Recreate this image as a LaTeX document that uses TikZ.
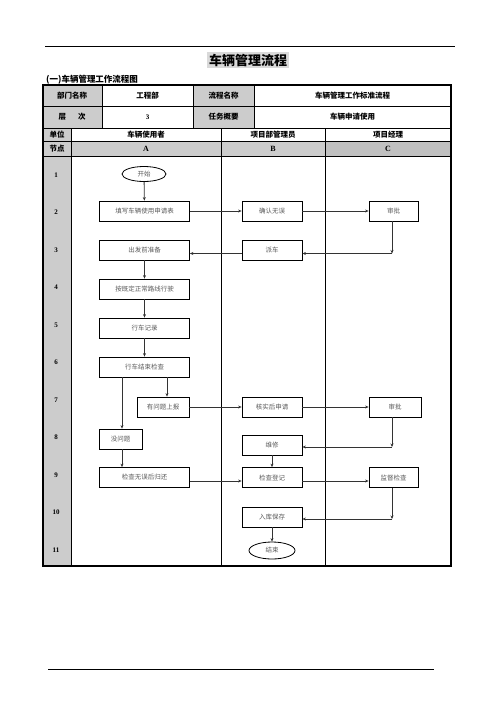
\documentclass[tikz,border=0pt]{standalone}
\usepackage{fontspec}
\setmainfont{Liberation Serif}
\newfontfamily\cjk{Noto Sans CJK SC}
\usepackage{tikz}
\usetikzlibrary{arrows.meta, shapes.geometric}
\definecolor{graycolor}{RGB}{204,204,204}
\definecolor{darkgraycolor}{RGB}{192,192,192}
\definecolor{titlecolor}{RGB}{217,217,217}

\begin{document}
\begin{tikzpicture}[x=1pt, y=-1pt, >={Stealth[length=3.5pt,width=3pt]},
  box/.style={draw, line width=0.8pt, rectangle, minimum height=20pt, inner sep=0pt, text=black!65, font=\cjk\fontsize{6.5}{7}\selectfont},
  oval/.style={draw, line width=0.8pt, ellipse, inner sep=0pt, text=black!65, font=\cjk\fontsize{6.5}{7}\selectfont},
  head/.style={font=\cjk\bfseries\fontsize{7.5}{8}\selectfont},
  flow/.style={->, line width=0.8pt, black!80}]
\useasboundingbox (0,0) rectangle (496,702);

% Page rules and titles
\draw[line width=0.8pt] (45,46) -- (455,46);
\draw[line width=0.8pt] (48,669) -- (434,669);
\fill[titlecolor] (207,52) rectangle (289,68);
\node[font=\cjk\bfseries\fontsize{13}{14}\selectfont] (title) at (248,60) {车辆管理流程};
\node[anchor=west, font=\cjk\bfseries\fontsize{8.5}{9}\selectfont, inner sep=0pt] (subtitle) at (46,79.5) {(一)车辆管理工作流程图};

% Table fills
\fill[graycolor] (43,85) rectangle (102,128);
\fill[graycolor] (193,85) rectangle (254,128);
\fill[graycolor] (43,128) rectangle (71,566);
\fill[graycolor] (71,141) rectangle (325.5,156);
\fill[darkgraycolor] (325.5,141) rectangle (451,156);

% Table lines
\draw[line width=0.6pt] (43,106) -- (451,106);
\draw[line width=0.6pt] (43,128) -- (451,128);
\draw[line width=0.6pt] (43,141) -- (451,141);
\draw[line width=0.6pt] (43,156) -- (451,156);
\foreach \x in {102,193,254} \draw[line width=0.6pt] (\x,85) -- (\x,128);
\foreach \x in {71,221,325.5} \draw[line width=0.6pt] (\x,128) -- (\x,566);
\draw[line width=1.6pt] (43,85) rectangle (451,566);

% Table headings
\node[head] (dept) at (72,96) {部门名称};
\node[head] (deptval) at (147.5,96) {工程部};
\node[head] (pname) at (223.5,96) {流程名称};
\node[head] (pnameval) at (352.5,96) {车辆管理工作标准流程};
\node[head] (level) at (72,117) {层\hspace{1.6em}次};
\node[head, font=\bfseries\fontsize{7}{8}\selectfont] (levelval) at (147.5,117) {3};
\node[head] (task) at (223.5,117) {任务概要};
\node[head] (taskval) at (352.5,117) {车辆申请使用};
\node[head] (unit) at (57,134.5) {单位};
\node[head] (unitA) at (146,134.5) {车辆使用者};
\node[head] (unitB) at (273,134.5) {项目部管理员};
\node[head] (unitC) at (388,134.5) {项目经理};
\node[head] (step) at (57,148.5) {节点};
\node[font=\bfseries\fontsize{8}{9}\selectfont] (colA) at (146,148.5) {A};
\node[font=\bfseries\fontsize{8}{9}\selectfont] (colB) at (273,148.5) {B};
\node[font=\bfseries\fontsize{8}{9}\selectfont] (colC) at (388,148.5) {C};
\foreach \i in {1,...,11}
  \node[font=\bfseries\fontsize{7}{8}\selectfont] (row\i) at (56,{175+(\i-1)*37.5}) {\i};

% Lane A
\node[oval, minimum width=44pt, minimum height=15pt] (start) at (144,174) {开始};
\node[box, minimum width=90pt] (fill) at (144.5,211) {填写车辆使用申请表};
\node[box, minimum width=90pt] (prep) at (144.5,250) {出发前准备};
\node[box, minimum width=90pt] (route) at (144.5,289) {按既定正常路线行驶};
\node[box, minimum width=90pt] (log) at (144.5,328) {行车记录};
\node[box, minimum width=90pt] (endchk) at (144.5,367) {行车结束检查};
\node[box, minimum width=52pt] (report) at (163,407) {有问题上报};
\node[box, minimum width=43pt] (noprob) at (120.5,439) {没问题};
\node[box, minimum width=90pt] (return) at (144.5,477.5) {检查无误后归还};

% Lane B
\node[box, minimum width=60pt] (confirm) at (272,211) {确认无误};
\node[box, minimum width=60pt] (dispatch) at (272,250) {派车};
\node[box, minimum width=60pt] (verify) at (272,407) {核实后申请};
\node[box, minimum width=60pt] (repair) at (272,445) {维修};
\node[box, minimum width=60pt] (register) at (272,477.5) {检查登记};
\node[box, minimum width=60pt] (store) at (272,517) {入库保存};
\node[oval, minimum width=46pt, minimum height=17pt] (finish) at (272,550.5) {结束};

% Lane C
\node[box, minimum width=49pt] (appr1) at (393.5,211) {审批};
\node[box, minimum width=52pt] (appr2) at (395,407) {审批};
\node[box, minimum width=49pt] (superv) at (393.5,477.5) {监督检查};

% Corners
\coordinate (c1) at (392,253.5);
\coordinate (c2) at (392,447);
\coordinate (c3) at (392,519);

% Connectors
\draw[flow] (start) -- (fill);
\draw[flow] (fill) -- (confirm);
\draw[flow] (confirm) -- (appr1);
\draw[flow] (appr1.south -| c1) -- (c1);
\draw[flow] (c1) -- (dispatch.east |- c1);
\draw[flow] (dispatch.west |- c1) -- (prep.east |- c1);
\draw[flow] (prep) -- (route);
\draw[flow] (route) -- (log);
\draw[flow] (log) -- (endchk);
\draw[flow] (endchk.south -| 167,0) -- (report.north -| 167,0);
\draw[flow] (endchk.south -| 122,0) -- (noprob.north -| 122,0);
\draw[flow] (report) -- (verify);
\draw[flow] (verify.east) -- (appr2.west |- verify.east);
\draw[flow] (appr2.south -| c2) -- (c2);
\draw[flow] (c2) -- (repair.east |- c2);
\draw[flow] (repair) -- (register);
\draw[flow] (noprob.south -| 122,0) -- (return.north -| 122,0);
\draw[flow] (return.east |- 0,481) -- (register.west |- 0,481);
\draw[flow] (register.east |- 0,481) -- (superv.west |- 0,481);
\draw[flow] (superv.south -| c3) -- (c3);
\draw[flow] (c3) -- (store.east |- c3);
\draw[flow] (store) -- (finish);
\end{tikzpicture}
\end{document}
